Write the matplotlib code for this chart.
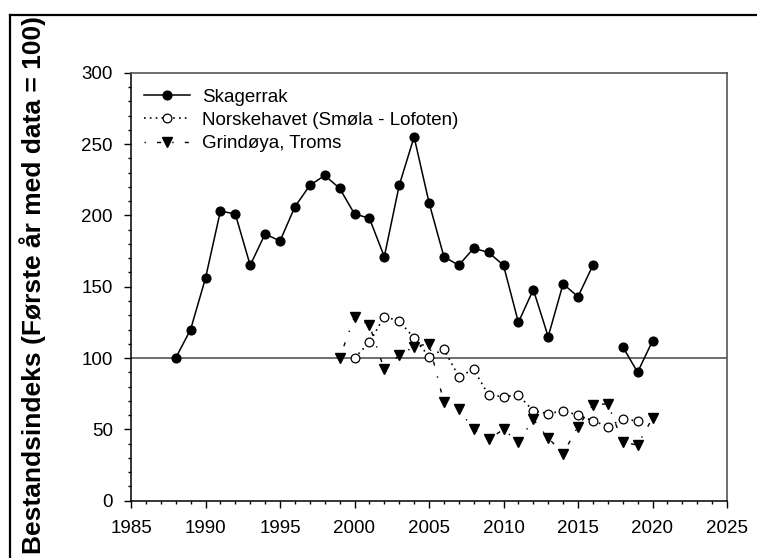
import numpy as np
import matplotlib.pyplot as plt
from matplotlib.ticker import MultipleLocator
from matplotlib.lines import Line2D

plt.rcParams['font.family'] = ['Liberation Sans', 'DejaVu Sans']

# Skagerrak (1988-2020, no data 2017)
skag_years = list(range(1988, 2021))
skag_vals = [100, 120, 156, 203, 201, 165, 187, 182, 206, 221, 228, 219, 201, 198,
             171, 221, 255, 209, 171, 165, 177, 174, 165, 125, 148, 115, 152, 143,
             165, np.nan, 108, 90, 112]

# Norskehavet (Smøla - Lofoten)
norsk_years = list(range(2000, 2020))
norsk_vals = [100, 111, 129, 126, 114, 101, 106, 87, 92, 74, 73, 74, 63, 61, 63, 60,
              56, 52, 57, 56]

# Grindøya, Troms
grind_years = list(range(1999, 2021))
grind_vals = [100, 129, 123, 92, 102, 108, 110, 69, 64, 50, 43, 50, 41, 57, 44, 33,
              52, 67, 68, 41, 39, 58]

fig = plt.figure(figsize=(7.57, 5.58), dpi=100)
ax = fig.add_axes([131 / 757, 1 - 500.7 / 558, 596 / 757, 428 / 558])

ax.axhline(100, color='#555555', lw=1.2, zorder=1)

ax.plot(skag_years, skag_vals, color='black', lw=1.1, marker='o', ms=6.3,
        mfc='black', mec='black', label='Skagerrak', zorder=3)
ax.plot(norsk_years, norsk_vals, color='black', lw=1.2, ls=(0, (1, 2.5)), marker='o',
        ms=6.3, mfc='white', mec='black', mew=0.9,
        label='Norskehavet (Smøla - Lofoten)', zorder=3)
ax.plot(grind_years, grind_vals, color='black', lw=1.0, ls=(0, (1, 8, 3, 8)),
        marker='v', ms=7.5, mfc='black', mec='black', label='Grindøya, Troms', zorder=3)

ax.set_xlim(1985, 2025)
ax.set_ylim(0, 300)
ax.xaxis.set_major_locator(MultipleLocator(5))
ax.xaxis.set_minor_locator(MultipleLocator(1))
ax.yaxis.set_major_locator(MultipleLocator(50))
ax.yaxis.set_minor_locator(MultipleLocator(10))
ax.tick_params(which='both', direction='out', top=False, right=False, labelsize=13.5,
               width=1, color='black')
ax.tick_params(which='major', length=5)
ax.tick_params(which='minor', length=2.5)
ax.tick_params(axis='y', which='major', pad=8)
ax.tick_params(axis='x', which='major', pad=9)

for side in ['left', 'bottom']:
    ax.spines[side].set_color('black')
    ax.spines[side].set_linewidth(1.1)
for side in ['top', 'right']:
    ax.spines[side].set_color('#555555')
    ax.spines[side].set_linewidth(1.2)

ax.legend(loc='upper left', bbox_to_anchor=(0.021, 0.963), frameon=False,
          fontsize=13.5, borderpad=0, borderaxespad=0, handlelength=2.5,
          handletextpad=0.6, labelspacing=0.33)

fig.text(33 / 757, 1 - 16 / 558, 'Bestandsindeks (Første år med data = 100)',
         rotation=90, ha='center', va='top', fontsize=19, fontweight='bold')

# outer frame
fig.add_artist(Line2D([10 / 757, 10 / 757], [0, 1 - 15 / 558],
                      transform=fig.transFigure, color='black', lw=1.6))
fig.add_artist(Line2D([10 / 757, 1], [1 - 15 / 558, 1 - 15 / 558],
                      transform=fig.transFigure, color='black', lw=1.6))

fig.savefig('out.png', dpi=100)
